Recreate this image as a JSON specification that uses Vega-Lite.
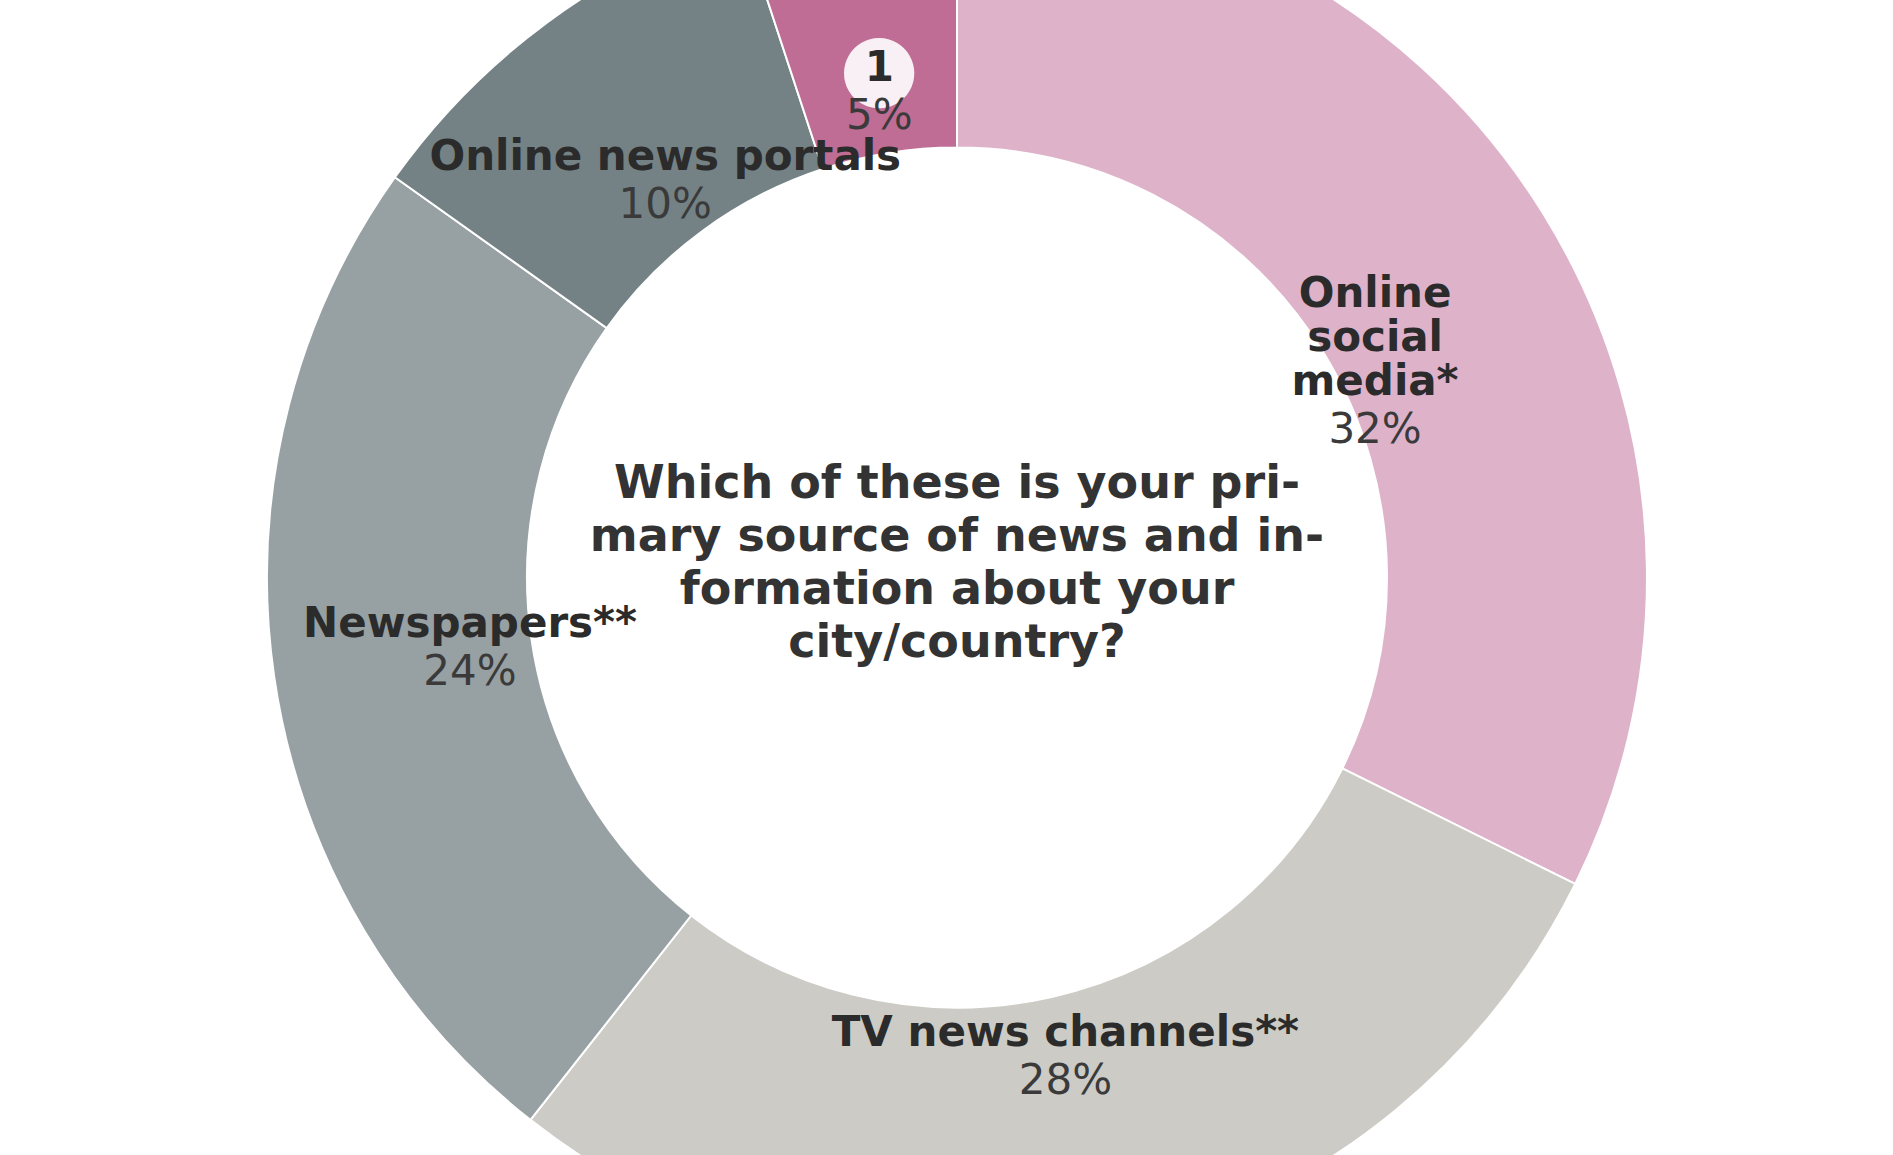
{
  "$schema": "https://vega.github.io/schema/vega-lite/v6.json",
  "width": 1893,
  "height": 1155,
  "autosize": {"type": "fit", "contains": "padding"},
  "padding": {"left": 21, "top": 0, "right": 0, "bottom": 0},
  "background": "white",
  "config": {"view": {"stroke": null}},
  "data": {
    "values": [
      {"idx": 1, "category": "Online social media", "name": "Online\nsocial\nmedia*", "pct": "\u2800\n\u2800\n\u2800\n32%", "value": 32},
      {"idx": 2, "category": "TV news channels", "name": "TV news channels**", "pct": "\u2800\n28%", "value": 28},
      {"idx": 3, "category": "Newspapers", "name": "Newspapers**", "pct": "\u2800\n24%", "value": 24},
      {"idx": 4, "category": "Online news portals", "name": "Online news portals", "pct": "\u2800\n10%", "value": 10},
      {"idx": 5, "category": "1", "name": "1", "pct": "\u2800\n5%", "value": 5}
    ]
  },
  "layer": [
    {
      "mark": {"type": "arc", "innerRadius": 430, "outerRadius": 690, "stroke": "white", "strokeWidth": 2},
      "encoding": {
        "theta": {"field": "value", "type": "quantitative", "stack": true},
        "order": {"field": "idx", "type": "quantitative"},
        "color": {
          "field": "category",
          "type": "nominal",
          "scale": {
            "domain": ["Online social media", "TV news channels", "Newspapers", "Online news portals", "1"],
            "range": ["#deb3ca", "#cccbc6", "#97a0a2", "#748285", "#c06d95"]
          },
          "legend": null
        }
      }
    },
    {
      "mark": {"type": "text", "radius": 492, "font": "DejaVu Sans", "fontSize": 92, "color": "#f9f0f5", "baseline": "middle", "align": "center", "dy": -23},
      "encoding": {
        "theta": {"field": "value", "type": "quantitative", "stack": true},
        "order": {"field": "idx", "type": "quantitative"},
        "text": {"condition": {"test": "datum.name == '1'", "value": "●"}, "value": ""}
      }
    },
    {
      "mark": {"type": "text", "radius": 492, "font": "DejaVu Sans", "fontWeight": "bold", "fontSize": 42, "lineBreak": "\n", "lineHeight": 44, "color": "#2b2b2b", "baseline": "top", "align": "center", "dy": -44},
      "encoding": {
        "theta": {"field": "value", "type": "quantitative", "stack": true},
        "order": {"field": "idx", "type": "quantitative"},
        "text": {"field": "name", "type": "nominal"}
      }
    },
    {
      "mark": {"type": "text", "radius": 492, "font": "DejaVu Sans", "fontSize": 42, "lineBreak": "\n", "lineHeight": 44, "color": "#3a3a3a", "baseline": "top", "align": "center", "dy": -40},
      "encoding": {
        "theta": {"field": "value", "type": "quantitative", "stack": true},
        "order": {"field": "idx", "type": "quantitative"},
        "text": {"field": "pct", "type": "nominal"}
      }
    },
    {
      "data": {"values": [{"q": "Which of these is your pri-\nmary source of news and in-\nformation about your\ncity/country?"}]},
      "mark": {"type": "text", "font": "DejaVu Sans", "fontWeight": "bold", "fontSize": 46, "lineBreak": "\n", "lineHeight": 53, "color": "#333333", "baseline": "middle", "align": "center", "dy": -94},
      "encoding": {"text": {"field": "q", "type": "nominal"}}
    }
  ]
}
